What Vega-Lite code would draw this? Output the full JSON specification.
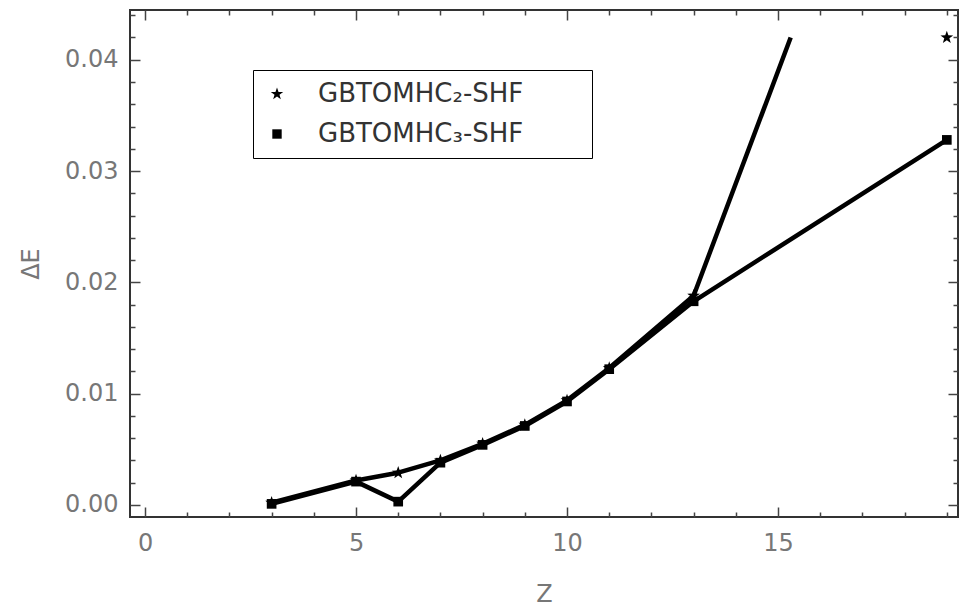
{
  "$schema": "https://vega.github.io/schema/vega-lite/v6.json",
  "autosize": {"type": "none"},
  "width": 828,
  "height": 507,
  "padding": {"left": 130, "top": 10, "right": 2, "bottom": 91},
  "background": "white",
  "config": {
    "view": {"stroke": "#333", "strokeWidth": 2},
    "axis": {"domain": false, "grid": false, "labelFont": "DejaVu Sans", "titleFont": "DejaVu Sans", "labelColor": "#777", "titleColor": "#777", "titleFontWeight": "normal", "tickColor": "#444", "tickWidth": 1.5}
  },
  "datasets": {
    "lines": [
      {"series": "GBTOMHC₂-SHF", "Z": 3, "dE": 0.0002},
      {"series": "GBTOMHC₂-SHF", "Z": 5, "dE": 0.0022},
      {"series": "GBTOMHC₂-SHF", "Z": 6, "dE": 0.0029},
      {"series": "GBTOMHC₂-SHF", "Z": 7, "dE": 0.0040},
      {"series": "GBTOMHC₂-SHF", "Z": 8, "dE": 0.0055},
      {"series": "GBTOMHC₂-SHF", "Z": 9, "dE": 0.0072},
      {"series": "GBTOMHC₂-SHF", "Z": 10, "dE": 0.0094},
      {"series": "GBTOMHC₂-SHF", "Z": 11, "dE": 0.0123},
      {"series": "GBTOMHC₂-SHF", "Z": 13, "dE": 0.0188},
      {"series": "GBTOMHC₂-SHF", "Z": 15.3, "dE": 0.0420},
      {"series": "GBTOMHC₃-SHF", "Z": 3, "dE": 0.0001},
      {"series": "GBTOMHC₃-SHF", "Z": 5, "dE": 0.0021},
      {"series": "GBTOMHC₃-SHF", "Z": 6, "dE": 0.0003},
      {"series": "GBTOMHC₃-SHF", "Z": 7, "dE": 0.0038},
      {"series": "GBTOMHC₃-SHF", "Z": 8, "dE": 0.0054},
      {"series": "GBTOMHC₃-SHF", "Z": 9, "dE": 0.0071},
      {"series": "GBTOMHC₃-SHF", "Z": 10, "dE": 0.0093},
      {"series": "GBTOMHC₃-SHF", "Z": 11, "dE": 0.0122},
      {"series": "GBTOMHC₃-SHF", "Z": 13, "dE": 0.0183},
      {"series": "GBTOMHC₃-SHF", "Z": 19, "dE": 0.0328}
    ],
    "markers": [
      {"series": "GBTOMHC₂-SHF", "Z": 3, "dE": 0.0002},
      {"series": "GBTOMHC₂-SHF", "Z": 5, "dE": 0.0022},
      {"series": "GBTOMHC₂-SHF", "Z": 6, "dE": 0.0029},
      {"series": "GBTOMHC₂-SHF", "Z": 7, "dE": 0.0040},
      {"series": "GBTOMHC₂-SHF", "Z": 8, "dE": 0.0055},
      {"series": "GBTOMHC₂-SHF", "Z": 9, "dE": 0.0072},
      {"series": "GBTOMHC₂-SHF", "Z": 10, "dE": 0.0094},
      {"series": "GBTOMHC₂-SHF", "Z": 11, "dE": 0.0123},
      {"series": "GBTOMHC₂-SHF", "Z": 13, "dE": 0.0188},
      {"series": "GBTOMHC₂-SHF", "Z": 19, "dE": 0.0420},
      {"series": "GBTOMHC₃-SHF", "Z": 3, "dE": 0.0001},
      {"series": "GBTOMHC₃-SHF", "Z": 5, "dE": 0.0021},
      {"series": "GBTOMHC₃-SHF", "Z": 6, "dE": 0.0003},
      {"series": "GBTOMHC₃-SHF", "Z": 7, "dE": 0.0038},
      {"series": "GBTOMHC₃-SHF", "Z": 8, "dE": 0.0054},
      {"series": "GBTOMHC₃-SHF", "Z": 9, "dE": 0.0071},
      {"series": "GBTOMHC₃-SHF", "Z": 10, "dE": 0.0093},
      {"series": "GBTOMHC₃-SHF", "Z": 11, "dE": 0.0122},
      {"series": "GBTOMHC₃-SHF", "Z": 13, "dE": 0.0183},
      {"series": "GBTOMHC₃-SHF", "Z": 19, "dE": 0.0328}
    ]
  },
  "layer": [
    {
      "data": {"name": "lines"},
      "mark": {"type": "line", "color": "black", "strokeWidth": 4.5, "strokeJoin": "round", "clip": true},
      "encoding": {
        "x": {
          "field": "Z", "type": "quantitative",
          "scale": {"domain": [-0.356, 19.265], "nice": false, "zero": false},
          "axis": {
            "orient": "bottom",
            "values": [0,1,2,3,4,5,6,7,8,9,10,11,12,13,14,15,16,17,18,19],
            "labelExpr": "datum.value % 5 === 0 ? datum.label : ''",
            "tickSize": {"condition": {"test": "datum.value % 5 === 0", "value": -10}, "value": -5},
            "labelFontSize": 24, "labelPadding": 24,
            "title": "Z", "titleFontSize": 24, "titlePadding": 27
          }
        },
        "y": {
          "field": "dE", "type": "quantitative",
          "scale": {"domain": [-0.00108, 0.04447], "nice": false, "zero": false},
          "axis": {
            "orient": "left",
            "values": [0,0.002,0.004,0.006,0.008,0.01,0.012,0.014,0.016,0.018,0.02,0.022,0.024,0.026,0.028,0.03,0.032,0.034,0.036,0.038,0.04,0.042,0.044],
            "labelExpr": "abs(datum.value*100 - round(datum.value*100)) < 0.001 ? format(datum.value, '.2f') : ''",
            "tickSize": {"condition": {"test": "abs(datum.value*100 - round(datum.value*100)) < 0.001", "value": -10}, "value": -5},
            "labelFontSize": 24, "labelPadding": 22,
            "title": "ΔE", "titleFontSize": 24, "titlePadding": 21
          }
        },
        "detail": {"field": "series"}
      }
    },
    {
      "data": {"name": "markers"},
      "mark": {"type": "point", "filled": true, "color": "black", "opacity": 1, "size": 180, "clip": true},
      "encoding": {
        "x": {
          "field": "Z", "type": "quantitative",
          "scale": {"domain": [-0.356, 19.265], "nice": false, "zero": false},
          "axis": {
            "orient": "top",
            "values": [0,1,2,3,4,5,6,7,8,9,10,11,12,13,14,15,16,17,18,19],
            "labels": false, "title": null,
            "tickSize": {"condition": {"test": "datum.value % 5 === 0", "value": -10}, "value": -5}
          }
        },
        "y": {
          "field": "dE", "type": "quantitative",
          "scale": {"domain": [-0.00108, 0.04447], "nice": false, "zero": false},
          "axis": {
            "orient": "right",
            "values": [0,0.002,0.004,0.006,0.008,0.01,0.012,0.014,0.016,0.018,0.02,0.022,0.024,0.026,0.028,0.03,0.032,0.034,0.036,0.038,0.04,0.042,0.044],
            "labels": false, "title": null,
            "tickSize": {"condition": {"test": "abs(datum.value*100 - round(datum.value*100)) < 0.001", "value": -10}, "value": -5}
          }
        },
        "shape": {
          "field": "series", "type": "nominal",
          "scale": {
            "domain": ["GBTOMHC₂-SHF", "GBTOMHC₃-SHF"],
            "range": ["M0,-1L0.235,-0.324L0.951,-0.309L0.38,0.124L0.588,0.809L0,0.4L-0.588,0.809L-0.38,0.124L-0.951,-0.309L-0.235,-0.324Z", "M-0.72,-0.72H0.72V0.72H-0.72Z"]
          },
          "legend": {
            "orient": "none", "legendX": 123, "legendY": 60,
            "title": null,
            "fillColor": "white", "strokeColor": "black",
            "padding": 11, "rowPadding": 14,
            "symbolSize": 170, "symbolFillColor": "black", "symbolStrokeColor": "black", "symbolStrokeWidth": 0, "symbolOpacity": 1,
            "labelFont": "DejaVu Sans", "labelFontSize": 26, "labelColor": "#333", "labelOffset": 28, "labelLimit": 600,
            "labelExpr": "datum.label + '\u2800\u2800\u2800'"
          }
        }
      }
    }
  ],
  "resolve": {"axis": {"x": "independent", "y": "independent"}}
}
